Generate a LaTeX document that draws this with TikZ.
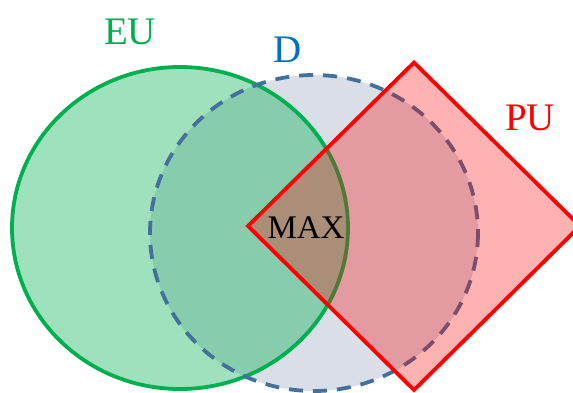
\documentclass[tikz,border=0pt]{standalone}
\usepackage{fontspec}
\setmainfont{Liberation Serif}
\definecolor{eugreen}{HTML}{00B050}
\definecolor{dblue}{HTML}{41719C}
\definecolor{dlabel}{HTML}{0070C0}
\definecolor{dfill}{HTML}{D9DEE7}
\definecolor{pured}{HTML}{FF0000}
\tikzset{
  biglabel/.style={inner sep=0pt, font=\fontsize{39}{42}\selectfont},
  eushape/.style={fill=eugreen, fill opacity=0.38, draw=eugreen, draw opacity=1, line width=3.8pt},
  dfillstyle/.style={fill=dfill},
  dline/.style={draw=dblue, line width=3.8pt, dash pattern=on 14pt off 10pt},
  pushape/.style={fill=pured, fill opacity=0.3, draw=pured, draw opacity=1, line width=3.8pt, line join=miter},
}
\begin{document}
\begin{tikzpicture}[x=1pt,y=-1pt]
\useasboundingbox (0,0) rectangle (573,392);
\clip (0,0) rectangle (573,392);
% D fill
\fill[dfillstyle] (314,233) ellipse [x radius=164, y radius=158];
% EU
\draw[eushape] (180,228) ellipse [x radius=168, y radius=161];
% D dashed outline
\draw[dline] (314,233) ellipse [x radius=164, y radius=158];
% PU diamond
\draw[pushape] (248,226) -- (414,62.5) -- (580,226) -- (414,390) -- cycle;
% labels
\node[biglabel, text=eugreen] (eu) at (130,32) {EU};
\node[biglabel, text=dlabel] (d) at (288,50) {D};
\node[biglabel, text=pured] (pu) at (530,117.5) {PU};
\node[inner sep=0pt, font=\fontsize{33}{36}\selectfont] (max) at (306,228) {MAX};
\end{tikzpicture}
\end{document}
